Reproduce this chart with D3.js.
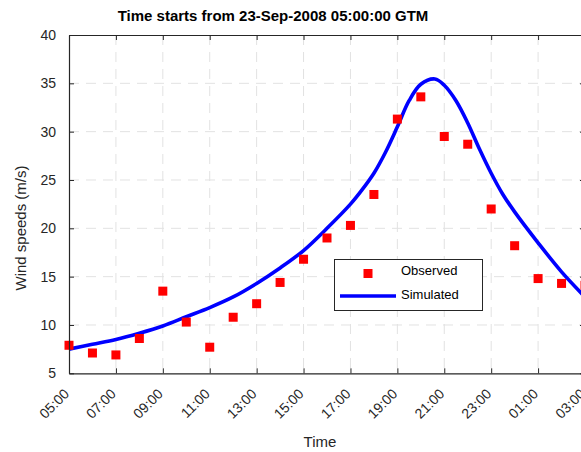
<!DOCTYPE html>
<html>
<head>
<meta charset="utf-8">
<script src="https://cdn.jsdelivr.net/npm/d3@7/dist/d3.min.js"></script>
<style>
  html, body { margin: 0; padding: 0; background: #fff; }
  svg { display: block; font-family: "Liberation Sans", Arial, Helvetica, sans-serif; }
</style>
</head>
<body>
<svg id="chart" width="581" height="452"></svg>
<script>
// Hourly observed wind speeds (m/s), starting 23-Sep-2008 05:00
const obsTimes = [
  "2008-09-23T05:00","2008-09-23T06:00","2008-09-23T07:00","2008-09-23T08:00",
  "2008-09-23T09:00","2008-09-23T10:00","2008-09-23T11:00","2008-09-23T12:00",
  "2008-09-23T13:00","2008-09-23T14:00","2008-09-23T15:00","2008-09-23T16:00",
  "2008-09-23T17:00","2008-09-23T18:00","2008-09-23T19:00","2008-09-23T20:00",
  "2008-09-23T21:00","2008-09-23T22:00","2008-09-23T23:00","2008-09-24T00:00",
  "2008-09-24T01:00","2008-09-24T02:00","2008-09-24T03:00"
];
const obsWind = [7.9, 7.1, 6.9, 8.6, 13.5, 10.3, 7.7, 10.8, 12.2, 14.4, 16.8, 19.0,
                 20.3, 23.5, 31.3, 33.6, 29.5, 28.7, 22.0, 18.2, 14.8, 14.3, 14.1];

// Simulated wind speed series (m/s)
const simTimes = [
  "2008-09-23T05:00","2008-09-23T06:00","2008-09-23T07:00","2008-09-23T08:00",
  "2008-09-23T09:00","2008-09-23T10:00","2008-09-23T11:00","2008-09-23T12:00",
  "2008-09-23T13:00","2008-09-23T14:00","2008-09-23T15:00","2008-09-23T16:00",
  "2008-09-23T17:00","2008-09-23T17:30","2008-09-23T18:00","2008-09-23T18:30",
  "2008-09-23T19:00","2008-09-23T19:30","2008-09-23T20:00","2008-09-23T20:36",
  "2008-09-23T21:00","2008-09-23T21:30","2008-09-23T22:00","2008-09-23T22:30",
  "2008-09-23T23:00","2008-09-23T23:30","2008-09-24T00:00","2008-09-24T01:00",
  "2008-09-24T02:00","2008-09-24T03:00"
];
const simWind = [7.5, 8.0, 8.5, 9.15, 9.9, 10.85, 11.8, 12.9, 14.3, 15.9, 17.7, 20.0,
                 22.5, 24.0, 25.7, 27.9, 30.5, 33.2, 34.9, 35.45, 34.8, 33.2, 30.9, 28.2,
                 25.7, 23.5, 21.7, 18.5, 15.5, 12.9];

// Axis ticks
const xTickTimes = ["2008-09-23T05:00","2008-09-23T07:00","2008-09-23T09:00","2008-09-23T11:00",
                    "2008-09-23T13:00","2008-09-23T15:00","2008-09-23T17:00","2008-09-23T19:00",
                    "2008-09-23T21:00","2008-09-23T23:00","2008-09-24T01:00","2008-09-24T03:00"];
const yTicks = [5, 10, 15, 20, 25, 30, 35, 40];

const titleText = "Time starts from 23-Sep-2008 05:00:00 GTM";
const xLabel = "Time";
const yLabel = "Wind speeds (m/s)";
const legendLabels = ["Observed", "Simulated"];

const parse = d3.utcParse("%Y-%m-%dT%H:%M");
const fmt = d3.utcFormat("%H:%M");

const axisColor = "#262626";
const gridColor = "#e2e2e2";

const svg = d3.select("#chart");

const plotL = 69, plotR = 585, plotT = 35, plotB = 373.3;

const x = d3.scaleUtc()
  .domain([parse(xTickTimes[0]), parse(xTickTimes[xTickTimes.length - 1])])
  .range([plotL, plotR]);
const y = d3.scaleLinear().domain([5, 40]).range([plotB, plotT]);

const xTicks = xTickTimes.map(parse);

// Dashed grid
const grid = svg.append("g");
grid.selectAll("line.v").data(xTicks.slice(1, -1)).join("line")
  .attr("class", "v")
  .attr("x1", d => x(d)).attr("x2", d => x(d))
  .attr("y1", plotT).attr("y2", plotB)
  .attr("stroke", gridColor).attr("stroke-width", 1).attr("stroke-dasharray", "10,7");
grid.selectAll("line.h").data(yTicks.slice(1, -1)).join("line")
  .attr("class", "h")
  .attr("x1", plotL).attr("x2", plotR)
  .attr("y1", d => y(d)).attr("y2", d => y(d))
  .attr("stroke", gridColor).attr("stroke-width", 1).attr("stroke-dasharray", "10,7");

// Simulated curve
const line = d3.line()
  .x((d, i) => x(parse(simTimes[i])))
  .y(d => y(d))
  .curve(d3.curveCatmullRom.alpha(0.5));
svg.append("path")
  .datum(simWind)
  .attr("d", line)
  .attr("fill", "none")
  .attr("stroke", "#0000ff")
  .attr("stroke-width", 3.6)
  .attr("stroke-linejoin", "round");

// Observed markers
const sq = 9;
svg.append("g").selectAll("rect").data(obsWind).join("rect")
  .attr("x", (d, i) => x(parse(obsTimes[i])) - sq / 2)
  .attr("y", d => y(d) - sq / 2)
  .attr("width", sq).attr("height", sq)
  .attr("fill", "#ff0000");

// Axes (ticks point inward)
function styleAxis(g) {
  g.attr("font-family", null);
  g.select(".domain").attr("stroke", axisColor).attr("stroke-width", 1.2);
  g.selectAll(".tick line").attr("stroke", axisColor).attr("stroke-width", 1);
  g.selectAll(".tick text").attr("fill", axisColor).style("font-size", "14px");
}

const xAxis = svg.append("g")
  .attr("transform", `translate(0,${plotB})`)
  .call(d3.axisBottom(x).tickValues(xTicks).tickFormat(fmt).tickSizeInner(-5).tickSizeOuter(0))
  .call(styleAxis);
xAxis.selectAll(".tick text")
  .attr("x", 0).attr("y", 0).attr("dy", "0.35em")
  .attr("text-anchor", "end")
  .attr("transform", "translate(-3,18) rotate(-45)");

svg.append("g")
  .attr("transform", `translate(${plotL},0)`)
  .call(d3.axisLeft(y).tickValues(yTicks).tickSizeInner(-5).tickSizeOuter(0).tickPadding(13))
  .call(styleAxis);

svg.append("g")
  .attr("transform", `translate(0,${plotT})`)
  .call(d3.axisTop(x).tickValues(xTicks).tickFormat("").tickSizeInner(-5).tickSizeOuter(0))
  .call(styleAxis);

svg.append("g")
  .attr("transform", `translate(${plotR},0)`)
  .call(d3.axisRight(y).tickValues(yTicks).tickFormat("").tickSizeInner(-5).tickSizeOuter(0))
  .call(styleAxis);

// Title and axis labels
svg.append("text")
  .attr("x", 273).attr("y", 21)
  .attr("text-anchor", "middle")
  .attr("font-weight", "bold")
  .style("font-size", "15px")
  .attr("fill", "#000")
  .text(titleText);

svg.append("text")
  .attr("x", 320).attr("y", 447)
  .attr("text-anchor", "middle")
  .style("font-size", "15px")
  .attr("fill", axisColor)
  .text(xLabel);

svg.append("text")
  .attr("transform", "translate(26,228) rotate(-90)")
  .attr("text-anchor", "middle")
  .style("font-size", "15px")
  .attr("fill", axisColor)
  .text(yLabel);

// Legend
const lg = svg.append("g");
lg.append("rect")
  .attr("x", 334.5).attr("y", 259.5).attr("width", 148).attr("height", 51)
  .attr("fill", "#fff").attr("stroke", axisColor).attr("stroke-width", 1);
lg.append("rect")
  .attr("x", 368 - sq / 2).attr("y", 273.5 - sq / 2).attr("width", sq).attr("height", sq)
  .attr("fill", "#ff0000");
lg.append("line")
  .attr("x1", 340).attr("x2", 396).attr("y1", 296).attr("y2", 296)
  .attr("stroke", "#0000ff").attr("stroke-width", 3.6);
lg.selectAll("text").data(legendLabels).join("text")
  .attr("x", 401)
  .attr("y", (d, i) => i === 0 ? 275 : 298.5)
  .style("font-size", "13px")
  .attr("fill", "#000")
  .text(d => d);
</script>
</body>
</html>
